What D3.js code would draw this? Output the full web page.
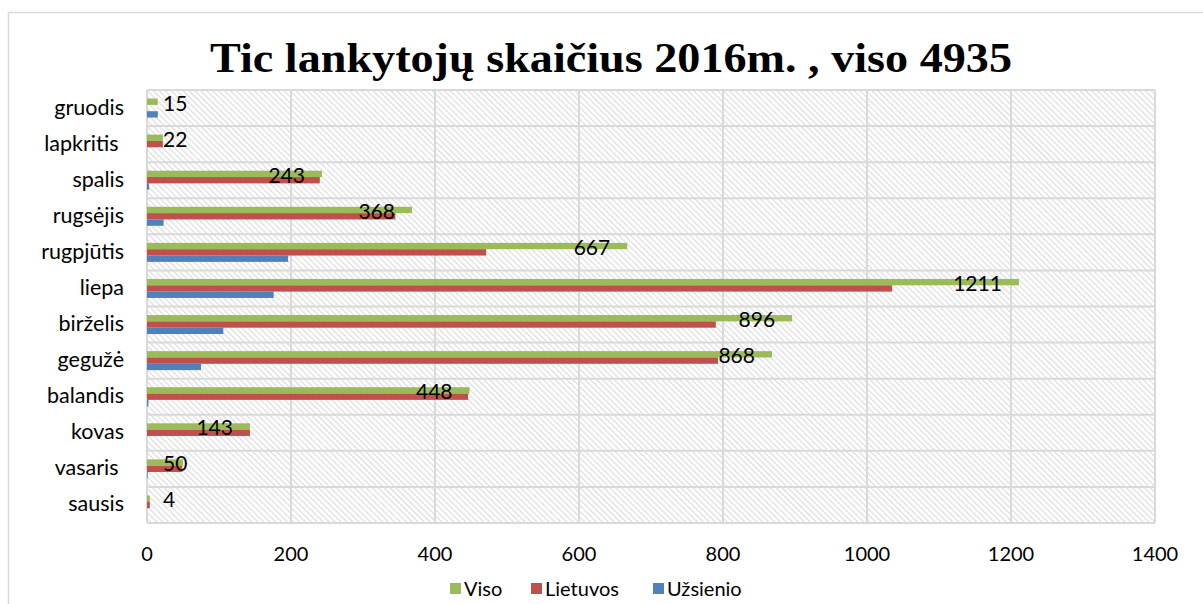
<!DOCTYPE html>
<html>
<head>
<meta charset="utf-8">
<script src="https://cdn.jsdelivr.net/npm/d3@7"></script>
<style>
  body { margin: 0; background: #fff; }
  text { font-family: Lato, "Open Sans", sans-serif; fill: #000; }
</style>
</head>
<body>
<svg id="chart" width="1203" height="604"></svg>
<script>
// months listed top to bottom as in the chart
const months = ["gruodis", "lapkritis ", "spalis", "rugsėjis", "rugpjūtis", "liepa",
                "birželis", "gegužė", "balandis", "kovas", "vasaris ", "sausis"];
const seriesNames = ["Viso", "Lietuvos", "Užsienio"];
const viso     = [15, 22, 243, 368, 667, 1211, 896, 868, 448, 143, 50, 4];
const lietuvos = [0, 22, 240, 345, 471, 1035, 790, 793, 446, 143, 49, 4];
const uzsienio = [15, 0, 3, 23, 196, 176, 106, 75, 2, 0, 1, 0];
const xTicks = [0, 200, 400, 600, 800, 1000, 1200, 1400];
const colors = ["#9bbb59", "#c0504d", "#4f81bd"];
const titleText = "Tic lankytojų skaičius 2016m. , viso 4935";

const svg = d3.select("#chart");
const plotLeft = 147, plotRight = 1155, plotTop = 90, plotBottom = 523;

// outer chart frame
svg.append("rect")
    .attr("x", 8.5).attr("y", 12.5).attr("width", 1220).attr("height", 620)
    .attr("fill", "#fff").attr("stroke", "#d9d9d9").attr("stroke-width", 1.5);

// hatch fill of the plot area
const defs = svg.append("defs");
const pat = defs.append("pattern")
    .attr("id", "hatch").attr("patternUnits", "userSpaceOnUse")
    .attr("width", 4.2).attr("height", 4.2)
    .attr("patternTransform", "rotate(45)");
pat.append("rect").attr("width", 4.2).attr("height", 4.2).attr("fill", "#fff");
pat.append("line").attr("x1", 0).attr("x2", 4.2).attr("y1", 2).attr("y2", 2)
    .attr("stroke", "#dcdcdc").attr("stroke-width", 1.2);

const x = d3.scaleLinear().domain([0, 1400]).range([plotLeft, plotRight]);
const y = d3.scaleBand().domain(months).range([plotTop, plotBottom]);
const ySub = d3.scaleBand().domain(seriesNames).range([0, y.bandwidth()]).paddingOuter(1.35);

svg.append("rect")
    .attr("x", plotLeft).attr("y", plotTop)
    .attr("width", plotRight - plotLeft).attr("height", plotBottom - plotTop)
    .attr("fill", "url(#hatch)");

// grid
svg.append("g").selectAll("line").data(xTicks).join("line")
    .attr("x1", d => x(d)).attr("x2", d => x(d))
    .attr("y1", plotTop).attr("y2", plotBottom)
    .attr("stroke", "#d9d9d9").attr("stroke-width", 2);
const rowEdges = months.map(m => y(m)).concat([plotBottom]);
svg.append("g").selectAll("line").data(rowEdges).join("line")
    .attr("x1", plotLeft).attr("x2", plotRight)
    .attr("y1", d => d).attr("y2", d => d)
    .attr("stroke", "#d9d9d9").attr("stroke-width", 2);

// bars
const seriesData = [viso, lietuvos, uzsienio];
seriesData.forEach((vals, si) => {
    svg.append("g").selectAll("rect").data(vals).join("rect")
        .attr("x", x(0))
        .attr("y", (d, i) => y(months[i]) + ySub(seriesNames[si]))
        .attr("width", d => x(d) - x(0))
        .attr("height", ySub.bandwidth())
        .attr("fill", colors[si]);
});

// data labels (Viso)
const labels = svg.append("g").selectAll("text").data(viso).join("text")
    .attr("font-size", 21)
    .attr("y", (d, i) => y(months[i]) + 20.5)
    .text(d => d);
labels.each(function(d) {
    const w = this.getComputedTextLength();
    const start = Math.max(x(d) - 17 - w, x(0) + 16);
    d3.select(this).attr("x", start);
});

// category labels
svg.append("g").selectAll("text").data(months).join("text")
    .attr("x", 124).attr("y", d => y(d) + y.bandwidth() / 2 + 6.5)
    .attr("text-anchor", "end").attr("font-size", 21.5)
    .style("white-space", "pre")
    .text(d => d);

// x axis tick labels
svg.append("g").selectAll("text").data(xTicks).join("text")
    .attr("x", d => x(d)).attr("y", 561)
    .attr("text-anchor", "middle").attr("font-size", 20)
    .text(d => d);

// title
svg.append("text")
    .attr("x", 611).attr("y", 72)
    .attr("text-anchor", "middle")
    .style("font-family", "'Liberation Serif', serif")
    .attr("font-weight", "bold").attr("font-size", 43)
    .attr("textLength", 802).attr("lengthAdjust", "spacingAndGlyphs")
    .text(titleText);

// legend
const legendX = [450, 531, 653];
const lg = svg.append("g").selectAll("g").data(seriesNames).join("g")
    .attr("transform", (d, i) => `translate(${legendX[i]},0)`);
lg.append("rect").attr("x", 0).attr("y", 583).attr("width", 11).attr("height", 11)
    .attr("fill", (d, i) => colors[i]);
lg.append("text").attr("x", 14).attr("y", 596).attr("font-size", 20).text(d => d);
</script>
</body>
</html>
